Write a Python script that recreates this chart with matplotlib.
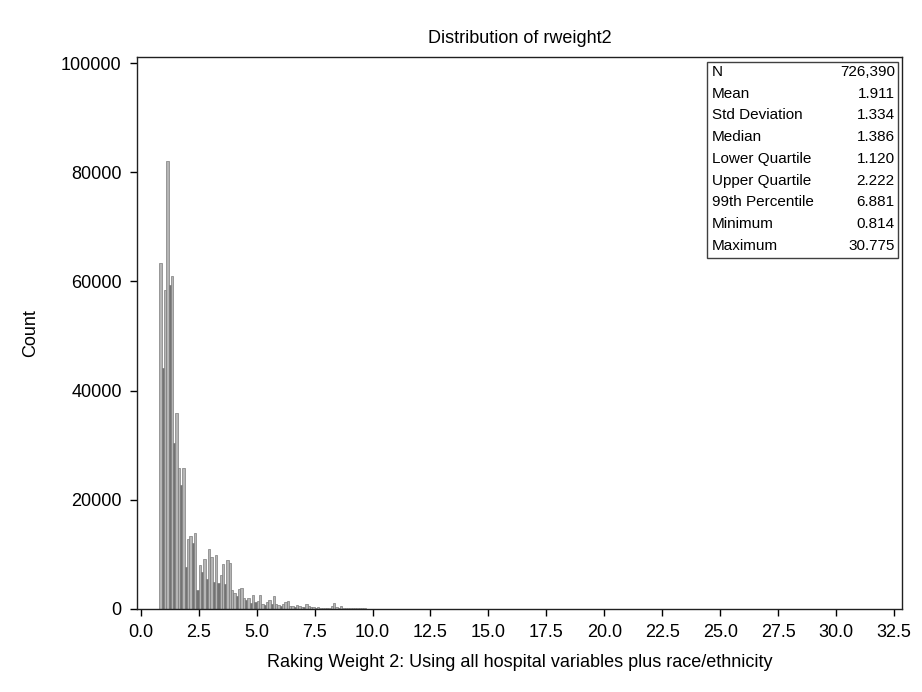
import numpy as np
import matplotlib
matplotlib.use("Agg")
import matplotlib.pyplot as plt
from matplotlib.patches import Rectangle

plt.rcParams['font.family'] = ['Liberation Sans', 'DejaVu Sans']

# histogram of rweight2, bins of width 0.1 starting at 0.8
bin_start = 0.8
bin_width = 0.1
counts = [
    63400, 44100, 58400, 82100, 59300, 60900, 30400, 35900, 25800, 22700,
    25800, 7700, 12800, 13400, 12000, 14000, 3500, 8000, 6700, 9200,
    5500, 10900, 9500, 5000, 9800, 4800, 6200, 8200, 4500, 8900,
    8500, 3500, 2900, 2300, 3600, 3800, 2000, 1600, 2000, 1100,
    2600, 1200, 1500, 2600, 1000, 800, 1200, 1700, 1000, 2400,
    1000, 700, 500, 1000, 1200, 1400, 600, 500, 400, 800,
    500, 400, 300, 900, 600, 300, 300, 250, 300, 200,
    200, 200, 150, 200, 500, 1100, 300, 200, 500, 200,
    150, 150, 120, 120, 100, 100, 100, 90, 90, 80,
    80, 70, 60, 60, 50, 50, 50, 40, 40, 40,
    30, 30, 30, 30, 25, 25, 20, 20, 20, 20,
    15, 15, 15, 10, 10, 10, 10,
]
# sparse far tail up to the maximum
tail_x = [13.1, 14.6, 16.2, 19.4, 23.0, 30.7]
tail_counts = [30, 20, 15, 10, 5, 3]

stat_names = ["N", "Mean", "Std Deviation", "Median", "Lower Quartile",
              "Upper Quartile", "99th Percentile", "Minimum", "Maximum"]
stat_values = ["726,390", "1.911", "1.334", "1.386", "1.120",
               "2.222", "6.881", "0.814", "30.775"]

fig = plt.figure(figsize=(9.22, 6.92), dpi=100)
ax = fig.add_axes([0.1486, 0.12, 0.8294, 0.7976])

edges = bin_start + bin_width * np.arange(len(counts))
c = np.array(counts)
# bars lower than both neighbours show darker in the original rendering
prev = np.r_[0, c[:-1]]
nxt = np.r_[c[1:], 0]
colors = np.where((c < prev) & (c < nxt), '#737373', '#b5b5b5')
ax.bar(edges, counts, width=bin_width, align='edge', color=colors,
       edgecolor='#7c7c7c', linewidth=0.5)
ax.bar(tail_x, tail_counts, width=bin_width, align='edge',
       color='#b5b5b5', edgecolor='#7c7c7c', linewidth=0.5)

ax.set_xlim(-0.16, 32.83)
ax.set_ylim(0, 101100)
ax.set_xticks(np.arange(0, 32.6, 2.5))
ax.set_xticklabels([f"{v:.1f}" for v in np.arange(0, 32.6, 2.5)])
ax.set_yticks(np.arange(0, 100001, 20000))
ax.tick_params(direction='out', length=5, width=1, labelsize=13, pad=6)
for s in ax.spines.values():
    s.set_linewidth(1)
    s.set_color('#202020')

ax.set_title("Distribution of rweight2", fontsize=13, pad=10)
ax.set_xlabel("Raking Weight 2: Using all hospital variables plus race/ethnicity",
              fontsize=13, labelpad=9)
ax.set_ylabel("Count", fontsize=13, labelpad=16)

# statistics inset box
bx0, bx1, by0, by1 = 0.745, 0.995, 0.636, 0.991
ax.add_patch(Rectangle((bx0, by0), bx1 - bx0, by1 - by0, transform=ax.transAxes,
                       facecolor='white', edgecolor='#404040', linewidth=1, zorder=5))
row_h = (by1 - by0) / len(stat_names)
for i, (name, val) in enumerate(zip(stat_names, stat_values)):
    y = by1 - row_h * (i + 0.45)
    ax.text(bx0 + 0.007, y, name, transform=ax.transAxes, fontsize=11,
            va='center', ha='left', zorder=6)
    ax.text(bx1 - 0.004, y, val, transform=ax.transAxes, fontsize=11,
            va='center', ha='right', zorder=6)

fig.savefig("out.png", dpi=100)
